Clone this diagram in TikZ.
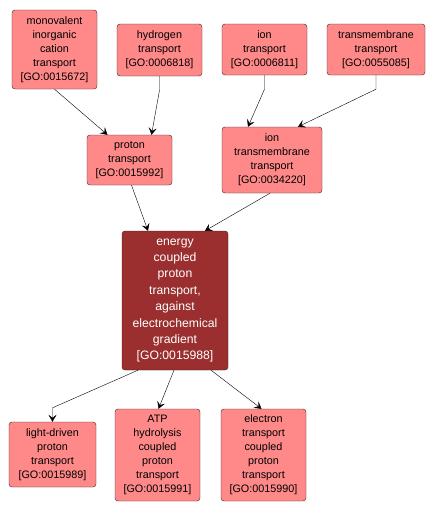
\documentclass[tikz,border=0pt]{standalone}
\usepackage{fontspec}
\setmainfont{Liberation Sans}
\usetikzlibrary{arrows.meta}
\definecolor{termfill}{RGB}{255,137,137}
\definecolor{focusfill}{RGB}{155,46,46}
\definecolor{termline}{RGB}{60,30,30}
\begin{document}
\begin{tikzpicture}[
    x=1pt, y=1pt,
    term/.style={rectangle, draw=termline, fill=termfill, rounded corners=3pt, align=center, inner sep=1pt,
        font=\fontsize{10.8}{14}\selectfont},
    focus/.style={term, fill=focusfill, text=white, font=\fontsize{12.2}{16.4}\selectfont},
    link/.style={draw, -{Stealth[length=7pt, width=8pt, inset=3pt]}}
]
\useasboundingbox (0,0) rectangle (435,-514);

% parents
\node[term, minimum width=85, minimum height=79] (mono) at (54.5,-49.5) {monovalent\\inorganic\\cation\\transport\\{[GO:0015672]}};
\node[term, minimum width=85, minimum height=52] (hydro) at (159.5,-50) {hydrogen\\transport\\{[GO:0006818]}};
\node[term, minimum width=85, minimum height=51] (ion) at (264.5,-49.5) {ion\\transport\\{[GO:0006811]}};
\node[term, minimum width=98, minimum height=51] (tmem) at (376,-49.5) {transmembrane\\transport\\{[GO:0055085]}};
\node[term, minimum width=85, minimum height=50] (proton) at (129.5,-160) {proton\\transport\\{[GO:0015992]}};
\node[term, minimum width=100, minimum height=66] (iontm) at (272,-160) {ion\\transmembrane\\transport\\{[GO:0034220]}};

% focus term
\node[focus, minimum width=106, minimum height=139] (energy) at (175,-300.5) {energy\\coupled\\proton\\transport,\\against\\electrochemical\\gradient\\{[GO:0015988]}};

% children
\node[term, minimum width=87, minimum height=65] (light) at (52.5,-454.5) {light-driven\\proton\\transport\\{[GO:0015989]}};
\node[term, minimum width=85, minimum height=92] (atp) at (157.5,-455) {ATP\\hydrolysis\\coupled\\proton\\transport\\{[GO:0015991]}};
\node[term, minimum width=85, minimum height=92] (elec) at (263.5,-455) {electron\\transport\\coupled\\proton\\transport\\{[GO:0015990]}};

\draw[link] (mono.south) -- ([xshift=-22]proton.north);
\draw[link] (hydro.south) -- ++(0,-14) -- ([xshift=22]proton.north);
\draw[link] (ion.south) -- ++(0,-14) -- ([xshift=-24]iontm.north);
\draw[link] (tmem.south) -- ++(0,-14) -- ([xshift=26]iontm.north);
\draw[link] ([xshift=2]proton.south) -- ([xshift=-27]energy.north);
\draw[link] ([xshift=-2]iontm.south) -- ([xshift=30]energy.north);
\draw[link] ([xshift=-37]energy.south) -- ([yshift=14]light.north) -- (light.north);
\draw[link] ([xshift=-1]energy.south) -- ([xshift=1]atp.north);
\draw[link] ([xshift=36]energy.south) -- ([xshift=-2]elec.north);

\end{tikzpicture}
\end{document}
